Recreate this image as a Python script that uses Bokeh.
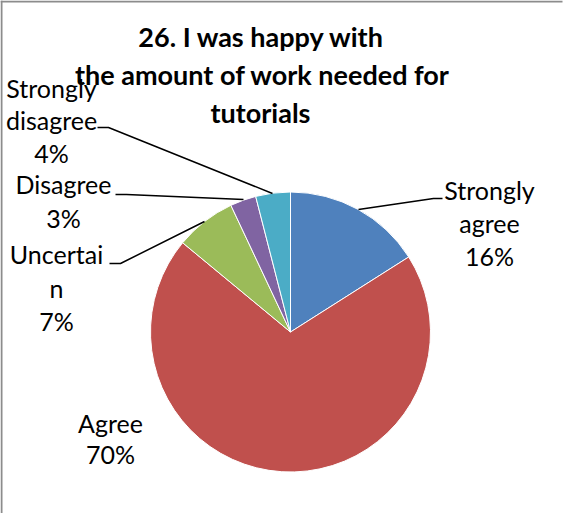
import math
from bokeh.plotting import figure
from bokeh.models import Range1d, ColumnDataSource
from bokeh.core.properties import value
from bokeh.embed import file_html
from bokeh.resources import INLINE

# ---- data ----
categories = ["Strongly agree", "Agree", "Uncertain", "Disagree", "Strongly disagree"]
percents = [16, 70, 7, 3, 4]
label_lines = [["Strongly", "agree", "16%"],
               ["Agree", "70%"],
               ["Uncertai", "n", "7%"],
               ["Disagree", "3%"],
               ["Strongly", "disagree", "4%"]]
colors = ["#4F81BD", "#C0504D", "#9BBB59", "#8064A2", "#4BACC6"]
title_lines = ["26. I was happy with", "the amount of work needed for", "tutorials"]

# ---- layout (page pixel coords; converted to y-up) ----
W, H = 563, 513
PX0, PY0 = 8, 8


def Y(py):
    return (PY0 + H) - py


cx, cy, r = 298, 339.5, 140
label_pos = [(497, [197, 230, 263]),
             (118, [430, 461]),
             (64, [261, 295, 328]),
             (71, [191, 225]),
             (59, [95, 127, 160])]
leaders = [[(366, 217), (441, 206), (450, 206)],
           None,
           [(117, 271), (128, 271), (212, 229)],
           [(123, 202), (134, 202), (251, 207)],
           [(105, 135), (116, 135), (280, 201)]]

p = figure(width=W, height=H, output_backend="svg", toolbar_location=None,
           x_range=Range1d(PX0, PX0 + W), y_range=Range1d(0, H),
           min_border=0, min_border_left=0, min_border_right=0,
           min_border_top=0, min_border_bottom=0)
p.axis.visible = False
p.xgrid.visible = False
p.ygrid.visible = False
p.outline_line_color = None
p.background_fill_color = "white"
p.border_fill_color = "white"

# pie wedges
total = sum(percents)
starts, ends = [], []
cum = 0.0
for v in percents:
    starts.append(math.pi / 2 - 2 * math.pi * cum / total)
    cum += v
    ends.append(math.pi / 2 - 2 * math.pi * cum / total)
src = ColumnDataSource(dict(start=starts, end=ends, color=colors, cat=categories))
p.wedge(x=cx, y=Y(cy), radius=r, start_angle="start", end_angle="end",
        direction="clock", fill_color="color", line_color="white", line_width=1,
        source=src)

# leader lines
xs, ys = [], []
for ld in leaders:
    if ld is None:
        continue
    xs.append([pt[0] for pt in ld])
    ys.append([Y(pt[1]) for pt in ld])
p.multi_line(xs=xs, ys=ys, line_color="black", line_width=1.5)

# labels
tx, ty, tt = [], [], []
for lines, (lx, lys) in zip(label_lines, label_pos):
    for s, ly in zip(lines, lys):
        tx.append(lx)
        ty.append(Y(ly))
        tt.append(s)
p.text(x=tx, y=ty, text=tt, text_font=value("Lato"), text_font_size="25px",
       text_align="center", text_baseline="middle", text_color="black")

# title
p.text(x=[269, 270, 268], y=[Y(44), Y(82), Y(120)], text=title_lines,
       text_font=value("Lato"), text_font_size="27px", text_font_style="bold",
       text_align="center", text_baseline="middle", text_color="black")

# frame border lines (left and top)
p.multi_line(xs=[[9, 9], [8, 570]], ys=[[Y(8), Y(521)], [Y(9), Y(9)]],
             line_color="#8c8c8c", line_width=2)

open("out.html", "w").write(file_html(p, INLINE))
